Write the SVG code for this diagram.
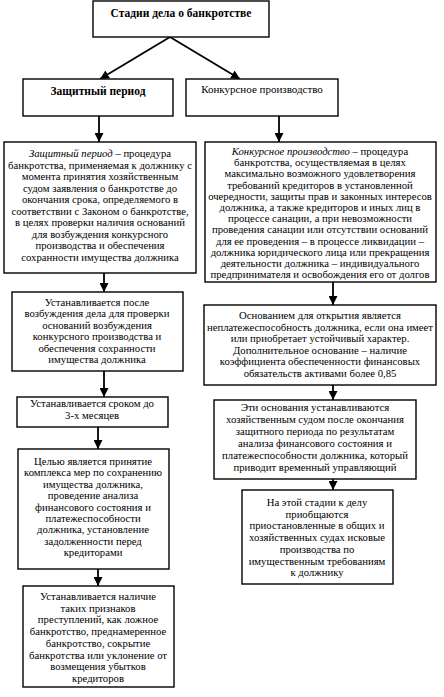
<svg xmlns="http://www.w3.org/2000/svg" width="444" height="697" viewBox="0 0 444 697" font-family="'Liberation Serif', 'Times New Roman', 'DejaVu Serif', serif">
<style>
.box{fill:#fff;stroke:#000;stroke-width:1.4}
.t{font-family:'Liberation Serif','Times New Roman','DejaVu Serif',serif;font-size:10.7px;fill:#000;text-anchor:middle}
.b{font-weight:bold;font-size:11.5px}
.h{font-size:11px}
.i{font-style:italic}
.c{stroke:#000;stroke-width:1.8;fill:none;marker-end:url(#ah)}
</style>
<defs>
<marker id="ah" viewBox="0 0 10 10" refX="10" refY="5" markerWidth="5" markerHeight="5" markerUnits="strokeWidth" orient="auto">
<path d="M0,0 L10,5 L0,10 z" fill="#000"/>
</marker>
</defs>
<rect width="444" height="697" fill="#fff"/>
<g id="connectors">
<line class="c" x1="170" y1="37" x2="100" y2="79"/>
<line class="c" x1="170" y1="37" x2="240" y2="79"/>
<line class="c" x1="99" y1="116" x2="99" y2="142"/>
<line class="c" x1="279" y1="116" x2="279" y2="142"/>
<line class="c" x1="104" y1="273" x2="104" y2="292"/>
<line class="c" x1="104" y1="371" x2="104" y2="397"/>
<line class="c" x1="98" y1="427" x2="98" y2="449"/>
<line class="c" x1="98" y1="569" x2="98" y2="586"/>
<line class="c" x1="333" y1="282" x2="333" y2="305"/>
<line class="c" x1="333" y1="385" x2="333" y2="400"/>
<line class="c" x1="333" y1="479" x2="333" y2="490"/>
</g>
<g id="stages">
<rect class="box" x="93" y="1" width="176" height="36"/>
<text class="t b" x="181" y="17">Стадии дела о банкротстве</text>
</g>
<g id="protective">
<rect class="box" x="23" y="79" width="150" height="37"/>
<text class="t b" x="98" y="95">Защитный период</text>
</g>
<g id="competitive">
<rect class="box" x="186" y="79" width="152" height="37"/>
<text class="t h" x="262" y="93">Конкурсное производство</text>
</g>
<g id="left2">
<rect class="box" x="4" y="142" width="192" height="131"/>
<text class="t" x="100" y="157"><tspan class="i">Защитный период</tspan> – процедура</text>
<text class="t" x="100" y="168.5">банкротства, применяемая к должнику с</text>
<text class="t" x="100" y="180">момента принятия хозяйственным</text>
<text class="t" x="100" y="191.5">судом заявления о банкротстве до</text>
<text class="t" x="100" y="203">окончания срока, определяемого в</text>
<text class="t" x="100" y="214.5">соответствии с Законом о банкротстве,</text>
<text class="t" x="100" y="226">в целях проверки наличия оснований</text>
<text class="t" x="100" y="237.5">для возбуждения конкурсного</text>
<text class="t" x="100" y="249">производства и обеспечения</text>
<text class="t" x="100" y="260.5">сохранности имущества должника</text>
</g>
<g id="right2">
<rect class="box" x="205" y="142" width="231" height="140"/>
<text class="t" x="320" y="155"><tspan class="i">Конкурсное производство</tspan> – процедура</text>
<text class="t" x="320" y="166.2">банкротства, осуществляемая в целях</text>
<text class="t" x="320" y="177.4">максимально возможного удовлетворения</text>
<text class="t" x="320" y="188.6">требований кредиторов в установленной</text>
<text class="t" x="320" y="199.8">очередности, защиты прав и законных интересов</text>
<text class="t" x="320" y="211">должника, а также кредиторов и иных лиц в</text>
<text class="t" x="320" y="222.2">процессе санации, а при невозможности</text>
<text class="t" x="320" y="233.4">проведения санации или отсутствии оснований</text>
<text class="t" x="320" y="244.6">для ее проведения – в процессе ликвидации –</text>
<text class="t" x="320" y="255.8">должника юридического лица или прекращения</text>
<text class="t" x="320" y="267">деятельности должника – индивидуального</text>
<text class="t" x="320" y="278.2">предпринимателя и освобождения его от долгов</text>
</g>
<g id="left3">
<rect class="box" x="12" y="292" width="171" height="79"/>
<text class="t" x="97" y="306">Устанавливается после</text>
<text class="t" x="97" y="317.4">возбуждения дела для проверки</text>
<text class="t" x="97" y="328.8">оснований возбуждения</text>
<text class="t" x="97" y="340.2">конкурсного производства и</text>
<text class="t" x="97" y="351.6">обеспечения сохранности</text>
<text class="t" x="97" y="363">имущества должника</text>
</g>
<g id="left4">
<rect class="box" x="17" y="397" width="151" height="30"/>
<text class="t" x="92" y="407">Устанавливается сроком до</text>
<text class="t" x="92" y="419">3-х месяцев</text>
</g>
<g id="left5">
<rect class="box" x="18" y="449" width="151" height="120"/>
<text class="t" x="93" y="465">Целью является принятие</text>
<text class="t" x="93" y="476.4">комплекса мер по сохранению</text>
<text class="t" x="93" y="487.8">имущества должника,</text>
<text class="t" x="93" y="499.2">проведение анализа</text>
<text class="t" x="93" y="510.6">финансового состояния и</text>
<text class="t" x="93" y="522">платежеспособности</text>
<text class="t" x="93" y="533.4">должника, установление</text>
<text class="t" x="93" y="544.8">задолженности перед</text>
<text class="t" x="93" y="556.2">кредиторами</text>
</g>
<g id="left6">
<rect class="box" x="23" y="586" width="151" height="101"/>
<text class="t" x="98" y="600">Устанавливается наличие</text>
<text class="t" x="98" y="611.7">таких признаков</text>
<text class="t" x="98" y="623.4">преступлений, как ложное</text>
<text class="t" x="98" y="635.1">банкротство, преднамеренное</text>
<text class="t" x="98" y="646.8">банкротство, сокрытие</text>
<text class="t" x="98" y="658.5">банкротства или уклонение от</text>
<text class="t" x="98" y="670.2">возмещения убытков</text>
<text class="t" x="98" y="681.9">кредиторов</text>
</g>
<g id="right3">
<rect class="box" x="204" y="305" width="232" height="80"/>
<text class="t" x="320" y="319">Основанием для открытия является</text>
<text class="t" x="320" y="330.6">неплатежеспособность должника, если она имеет</text>
<text class="t" x="320" y="342.2">или приобретает устойчивый характер.</text>
<text class="t" x="320" y="353.8">Дополнительное основание – наличие</text>
<text class="t" x="320" y="365.4">коэффициента обеспеченности финансовых</text>
<text class="t" x="320" y="377">обязательств активами более 0,85</text>
</g>
<g id="right4">
<rect class="box" x="214" y="400" width="202" height="79"/>
<text class="t" x="315" y="411">Эти основания устанавливаются</text>
<text class="t" x="315" y="423">хозяйственным судом после окончания</text>
<text class="t" x="315" y="435">защитного периода по результатам</text>
<text class="t" x="315" y="447">анализа финансового состояния и</text>
<text class="t" x="315" y="459">платежеспособности должника, который</text>
<text class="t" x="315" y="471">приводит временный управляющий</text>
</g>
<g id="right5">
<rect class="box" x="242" y="490" width="151" height="94"/>
<text class="t" x="317" y="506">На этой стадии к делу</text>
<text class="t" x="317" y="517.7">приобщаются</text>
<text class="t" x="317" y="529.4">приостановленные в общих и</text>
<text class="t" x="317" y="541.1">хозяйственных судах исковые</text>
<text class="t" x="317" y="552.8">производства по</text>
<text class="t" x="317" y="564.5">имущественным требованиям</text>
<text class="t" x="317" y="576.2">к должнику</text>
</g>
</svg>
